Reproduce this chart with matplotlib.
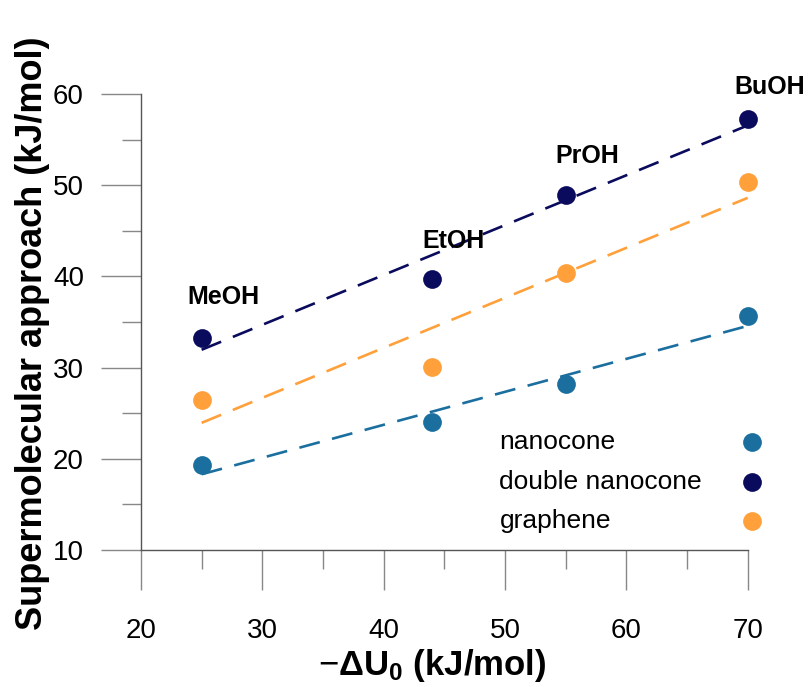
import numpy as np
import matplotlib
matplotlib.use("Agg")
import matplotlib.pyplot as plt
from matplotlib.ticker import MultipleLocator

plt.rcParams['font.family'] = ['Liberation Sans', 'DejaVu Sans']
plt.rcParams['mathtext.fontset'] = 'custom'
plt.rcParams['mathtext.rm'] = 'Liberation Sans'
plt.rcParams['mathtext.bf'] = 'Liberation Sans:bold'

# data
du0 = [25, 44, 55, 70]
alcohols = ['MeOH', 'EtOH', 'PrOH', 'BuOH']
label_y = [37.7, 43.9, 53.2, 60.8]

nanocone = [19.3, 24.0, 28.2, 35.7]
double_nanocone = [33.3, 39.7, 48.9, 57.3]
graphene = [26.4, 30.1, 40.4, 50.4]

series = [
    ('nanocone', nanocone, '#1b6f9f'),
    ('double nanocone', double_nanocone, '#0b0b5e'),
    ('graphene', graphene, '#ffa03a'),
]

fig = plt.figure(figsize=(8.1, 6.87), dpi=100)
ax = fig.add_axes([0.174, 0.1994, 0.749, 0.6638])

x = np.array(du0, dtype=float)
for name, vals, color in series:
    y = np.array(vals)
    # linear trendline
    k, b = np.polyfit(x, y, 1)
    ax.plot([x.min(), x.max()], [k * x.min() + b, k * x.max() + b],
            ls=(0, (8, 4.8)), lw=1.9, color=color, zorder=2, clip_on=False)
    ax.plot(x, y, 'o', ms=13.5, color=color, zorder=3, clip_on=False,
            markeredgewidth=0)

for name, xv, yv in zip(alcohols, du0, label_y):
    ax.text(xv + 1.8, yv, name, ha='center', va='center', fontsize=18,
            fontweight='bold', clip_on=False)

# legend: text left, marker right
for i, (name, vals, color) in enumerate(series):
    ly = 0.237 - i * 0.087
    ax.text(0.591, ly, name, transform=ax.transAxes, ha='left', va='center',
            fontsize=19)
    ax.plot([1.007], [ly], 'o', ms=13.5, color=color, transform=ax.transAxes,
            clip_on=False, markeredgewidth=0)

ax.set_xlim(20, 70)
ax.set_ylim(10, 60)
ax.xaxis.set_major_locator(MultipleLocator(10))
ax.xaxis.set_minor_locator(MultipleLocator(5))
ax.yaxis.set_major_locator(MultipleLocator(10))
ax.yaxis.set_minor_locator(MultipleLocator(5))

for s in ['top', 'right']:
    ax.spines[s].set_visible(False)
for s in ['left', 'bottom']:
    ax.spines[s].set_color('#555555')
    ax.spines[s].set_linewidth(1.0)

ax.tick_params(which='major', direction='out', length=29, width=1.0,
               color='#888888', labelsize=20, pad=12)
ax.tick_params(which='minor', direction='out', length=14, width=1.0,
               color='#888888')
ax.tick_params(axis='x', which='major', pad=20)

ax.set_xlabel(r'$-\mathbf{\Delta U_0}$ (kJ/mol)', fontsize=25,
              fontweight='bold', labelpad=2)
ax.xaxis.label.set_x(0.48)
ax.set_ylabel('Supermolecular approach (kJ/mol)', fontsize=26,
              fontweight='bold', labelpad=2)
ax.yaxis.label.set_y(0.475)

fig.savefig('out.png', dpi=100)
